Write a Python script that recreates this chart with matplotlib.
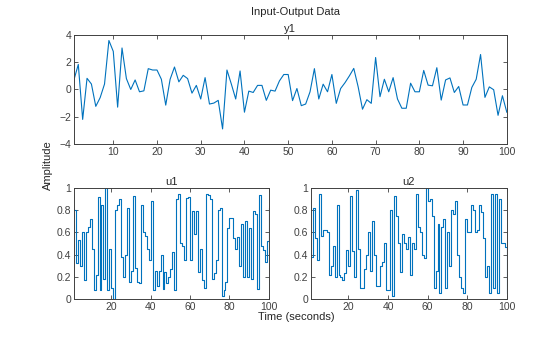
import numpy as np
import matplotlib.pyplot as plt

plt.rcParams['font.family'] = ['Liberation Sans', 'DejaVu Sans']

# sample index (1 second per sample)
t = np.arange(1, 101)

# output channel y1
y1 = [0.7, 1.84, -2.2, 0.82, 0.4, -1.24, -0.6, 0.4, 3.6, 2.8,
      -1.3, 3.05, 0.8, 0.0, 0.7, -0.17, -0.1, 1.53, 1.43, 1.43,
      0.75, -1.15, 0.75, 1.65, 0.56, 1.04, 0.8, -0.27, 0.3, -0.7,
      0.87, -1.07, -1.0, -0.8, -2.9, 1.43, 0.4, -0.7, 1.36, -1.67,
      -0.12, -0.22, 0.3, 0.3, -0.8, -0.05, -0.12, 0.63, 1.1, 1.1,
      -0.82, 0.07, -1.19, -1.07, -0.17, 1.53, -0.7, 0.39, -0.17, 1.1,
      -1.02, 0.07, 0.5, 1.0, 1.55, 0.2, -1.45, -0.75, -1.02, 2.35,
      -0.53, 0.75, -0.17, 0.87, -0.7, -1.38, -1.38, 0.46, -0.17, -0.17,
      1.4, 0.32, 0.27, 1.6, -0.78, 0.7, 0.85, -0.22, 0.22, -1.14,
      -1.14, 0.15, 0.75, 2.57, -0.58, 0.19, -0.02, -1.9, -0.46, -1.67]

# input channel u1
u1 = [0.8, 0.32, 0.53, 0.3, 0.6, 0.17, 0.6, 0.65, 0.72, 0.45,
      0.08, 0.22, 0.92, 0.08, 0.85, 0.18, 1.0, 0.08, 0.45, 0.1,
      0.0, 0.8, 0.85, 0.9, 0.38, 0.2, 0.4, 0.82, 0.15, 0.25,
      0.93, 0.28, 0.15, 0.14, 0.85, 0.6, 0.57, 0.45, 0.35, 0.88,
      0.08, 0.25, 0.12, 0.25, 0.4, 0.09, 0.24, 0.14, 0.2, 0.27,
      0.42, 0.08, 0.9, 0.95, 0.5, 0.48, 0.35, 0.91, 0.92, 0.35,
      0.79, 0.59, 0.79, 0.24, 0.45, 0.17, 0.1, 0.95, 0.94, 0.9,
      0.18, 0.23, 0.35, 0.8, 0.82, 0.03, 0.08, 0.15, 0.64, 0.73,
      0.73, 0.55, 0.45, 0.56, 0.3, 0.68, 0.2, 0.7, 0.2, 0.64,
      0.18, 0.79, 0.77, 0.09, 0.94, 0.48, 0.44, 0.33, 0.52, 0.82]

# input channel u2
u2 = [0.38, 0.82, 0.55, 0.35, 0.95, 0.57, 0.62, 0.62, 0.6, 0.22,
      0.3, 0.48, 0.2, 0.85, 0.22, 0.2, 0.17, 0.23, 0.44, 0.3,
      0.93, 0.43, 0.2, 0.98, 0.45, 0.1, 0.1, 0.27, 0.4, 0.6,
      0.25, 0.7, 0.4, 0.12, 0.12, 0.3, 0.33, 0.5, 0.08, 0.08,
      0.8, 0.03, 0.93, 0.75, 0.5, 0.24, 0.59, 0.5, 0.45, 0.56,
      0.22, 0.5, 0.45, 0.95, 0.65, 0.6, 0.4, 0.37, 1.0, 0.88,
      0.9, 0.75, 0.1, 0.25, 0.68, 0.05, 0.65, 0.72, 0.1, 0.6,
      0.3, 0.8, 0.77, 0.88, 0.4, 0.2, 0.1, 0.05, 0.72, 0.6,
      0.6, 0.85, 0.8, 0.6, 0.62, 0.85, 0.78, 0.55, 0.2, 0.3,
      0.05, 0.95, 0.1, 0.95, 0.05, 0.9, 0.5, 0.5, 0.47, 0.05]

blue = '#0072BD'
axcol = '#404040'
txtcol = '#262626'

fig = plt.figure(figsize=(5.6, 3.37), dpi=100)
ax_y = fig.add_axes([0.132, 0.573, 0.773, 0.323])
ax_u1 = fig.add_axes([0.132, 0.113, 0.348, 0.329])
ax_u2 = fig.add_axes([0.555, 0.113, 0.350, 0.329])

def style(ax):
    for s in ax.spines.values():
        s.set_color(axcol)
        s.set_linewidth(0.7)
    ax.tick_params(direction='in', top=True, right=True, length=3,
                   width=0.6, color=axcol, labelcolor=axcol, labelsize=7.5, pad=2)
    ax.set_xlim(1, 100)

ax_y.plot(t, y1, color=blue, lw=0.8)
style(ax_y)
ax_y.set_ylim(-4, 4)
ax_y.set_yticks([-4, -2, 0, 2, 4])
ax_y.set_xticks(np.arange(10, 101, 10))
ax_y.set_title('y1', fontsize=8, color=txtcol, pad=2)

for ax, u, name in [(ax_u1, u1, 'u1'), (ax_u2, u2, 'u2')]:
    ax.step(t, u, where='post', color=blue, lw=0.8)
    style(ax)
    ax.set_ylim(0, 1)
    ax.set_yticks(np.arange(0, 1.01, 0.2))
    ax.set_yticklabels(['0', '0.2', '0.4', '0.6', '0.8', '1'])
    ax.set_xticks([20, 40, 60, 80, 100])
    ax.set_title(name, fontsize=8, color=txtcol, pad=2)

fig.text(0.528, 0.963, 'Input-Output Data', ha='center', va='center',
         fontsize=8, color=txtcol)
fig.text(0.530, 0.060, 'Time (seconds)', ha='center', va='center',
         fontsize=8, color=txtcol)
fig.text(0.086, 0.51, 'Amplitude', ha='center', va='center',
         rotation=90, fontsize=8, color=txtcol)

fig.savefig('out.png', dpi=100)
